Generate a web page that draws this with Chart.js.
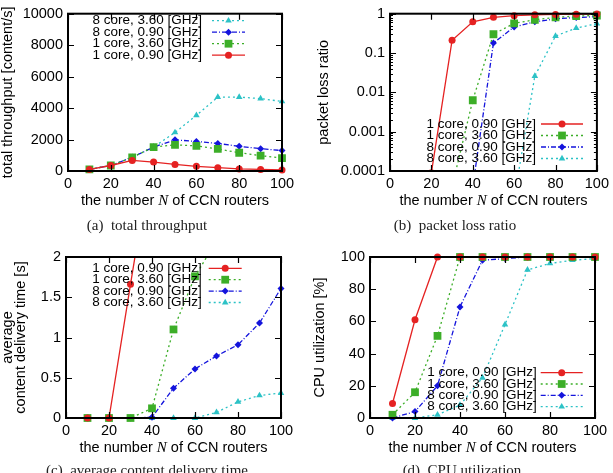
<!DOCTYPE html>
<html>
<head>
<meta charset="utf-8">
<script src="https://cdn.jsdelivr.net/npm/chart.js@4/dist/chart.umd.min.js"></script>
<style>
body { margin: 0; width: 613px; height: 473px; background: #fff; position: relative; overflow: hidden; }
.panel { position: absolute; }
.cap { position: absolute; font-family: "Liberation Serif", "DejaVu Serif", serif; font-size: 15px; line-height: 16px; color: #222; white-space: nowrap; transform: translateX(-50%); }
</style>
</head>
<body>
<div class="panel" style="left:0;top:0"><canvas id="tpChart" width="306" height="236"></canvas></div>
<div class="panel" style="left:306px;top:0"><canvas id="lossChart" width="307" height="236"></canvas></div>
<div class="panel" style="left:0;top:236px"><canvas id="delayChart" width="306" height="236"></canvas></div>
<div class="panel" style="left:306px;top:236px"><canvas id="cpuChart" width="307" height="236"></canvas></div>
<div class="cap" style="left:147px;top:217px">(a)&nbsp; total throughput</div>
<div class="cap" style="left:455px;top:217px">(b)&nbsp; packet loss ratio</div>
<div class="cap" style="left:147px;top:462px">(c)&nbsp; average content delivery time</div>
<div class="cap" style="left:462px;top:462px">(d)&nbsp; CPU utilization</div>
<script>
// x values: number of CCN routers
const routers = [10, 20, 30, 40, 50, 60, 70, 80, 90, 100];
const xTicks = [0, 20, 40, 60, 80, 100];

const seriesLabels = ['1 core, 0.90 [GHz]', '1 core, 3.60 [GHz]', '8 core, 0.90 [GHz]', '8 core, 3.60 [GHz]'];

// (a) total throughput [content/s]
const tp1c090 = [100, 350, 670, 570, 420, 300, 210, 130, 100, 70];
const tp1c360 = [100, 350, 870, 1520, 1660, 1600, 1400, 1160, 980, 820];
const tp8c090 = [100, 350, 870, 1520, 1980, 1880, 1750, 1570, 1420, 1300];
const tp8c360 = [100, 350, 870, 1520, 2450, 3540, 4700, 4700, 4600, 4420];
const tpTicks = [0, 2000, 4000, 6000, 8000, 10000];

// (b) packet loss ratio
const loss1c090 = [null, 0.00009, 0.21, 0.62, 0.81, 0.89, 0.94, 0.96, 0.97, 0.98];
const loss1c360 = [null, null, 0.00004, 0.0063, 0.30, 0.57, 0.70, 0.81, 0.87, 0.90];
const loss8c090 = [null, null, null, 0.00004, 0.18, 0.46, 0.62, 0.74, 0.80, 0.84];
const loss8c360 = [null, null, null, null, null, 0.00002, 0.026, 0.27, 0.43, 0.56];
const lossTicks = [0.0001, 0.001, 0.01, 0.1, 1];
const lossTickLabels = ['0.0001', '0.001', '0.01', '0.1', '1'];

// (c) average content delivery time [s]
const dl1c090 = [0, 0, 1.66, 3.3, null, null, null, null, null, null];
const dl1c360 = [0, 0, 0, 0.12, 1.10, 1.76, 2.2, null, null, null];
const dl8c090 = [0, 0, 0, 0.01, 0.37, 0.61, 0.77, 0.91, 1.18, 1.61];
const dl8c360 = [0, 0, 0, 0, 0, 0, 0.07, 0.20, 0.28, 0.31];
const dlTicks = [0, 0.5, 1, 1.5, 2];

// (d) CPU utilization [%]
const cpu1c090 = [9, 61, 100, 100, 100, 100, 100, 100, 100, 100];
const cpu1c360 = [2, 16, 51, 100, 100, 100, 100, 100, 100, 100];
const cpu8c090 = [0, 4, 20, 69, 98, 99, 100, 100, 100, 100];
const cpu8c360 = [0, 0, 2, 8, 25, 58, 92, 96, 98, 99];
const cpuTicks = [0, 20, 40, 60, 80, 100];

const colors = ['#e52222', '#3cae28', '#1414dc', '#2cc2c6'];
const dashes = [[], [2, 3], [5, 2, 1, 2], [2, 3]];
const pointStyles = ['circle', 'rect', 'rectRot', 'triangle'];
const pointRadii = [3.5, 5.5, 3.5, 3.8];

const sansFont = '"Liberation Sans", Arial, sans-serif';

// gnuplot-like frame, inward ticks, axis titles and key
const gnuplotFrame = {
    id: 'gnuplotFrame',
    afterDraw(chart, args, opts) {
        const { ctx, chartArea: a, scales } = chart;
        const xs = scales.x, ys = scales.y;
        ctx.save();
        ctx.strokeStyle = '#000';
        ctx.lineWidth = 1.2;
        ctx.setLineDash([]);
        ctx.beginPath();
        xs.ticks.forEach(t => {
            const px = Math.round(xs.getPixelForValue(t.value)) + 0.5;
            ctx.moveTo(px, a.bottom); ctx.lineTo(px, a.bottom - 6);
            ctx.moveTo(px, a.top); ctx.lineTo(px, a.top + 6);
        });
        ys.ticks.forEach(t => {
            const py = Math.round(ys.getPixelForValue(t.value)) + 0.5;
            ctx.moveTo(a.left, py); ctx.lineTo(a.left + 6, py);
            ctx.moveTo(a.right, py); ctx.lineTo(a.right - 6, py);
        });
        if (opts.minor) {
            for (let d = 0.0001; d < 1; d *= 10) {
                for (let m = 2; m <= 9; m++) {
                    const py = Math.round(ys.getPixelForValue(d * m)) + 0.5;
                    ctx.moveTo(a.left, py); ctx.lineTo(a.left + 3, py);
                    ctx.moveTo(a.right, py); ctx.lineTo(a.right - 3, py);
                }
            }
        }
        ctx.stroke();
        ctx.lineWidth = 2;
        ctx.strokeRect(a.left, a.top, a.width, a.height);

        // x title with italic N
        ctx.fillStyle = '#000';
        ctx.textBaseline = 'middle';
        const fs = '14.5px ' + sansFont;
        const fi = 'italic 15px "Liberation Serif", serif';
        const parts = [['the number ', fs], ['N', fi], [' of CCN routers', fs]];
        let total = 0;
        parts.forEach(p => { ctx.font = p[1]; total += ctx.measureText(p[0]).width; });
        let x = (a.left + a.right) / 2 - total / 2;
        ctx.textAlign = 'left';
        parts.forEach(p => { ctx.font = p[1]; ctx.fillText(p[0], x, opts.xTitleY); x += ctx.measureText(p[0]).width; });

        // y title (rotated)
        ctx.font = fs;
        ctx.textAlign = 'center';
        opts.yTitle.forEach((line, i) => {
            ctx.save();
            ctx.translate(opts.yTitleX[i], (a.top + a.bottom) / 2);
            ctx.rotate(-Math.PI / 2);
            ctx.fillText(line, 0, 0);
            ctx.restore();
        });

        // key
        const k = opts.key;
        ctx.font = '13.5px ' + sansFont;
        k.order.forEach((di, row) => {
            const ds = chart.data.datasets[di];
            const y = k.ys[row];
            ctx.fillStyle = '#000';
            ctx.textAlign = 'right';
            ctx.fillText(ds.label, k.x, y);
            ctx.strokeStyle = ds.borderColor;
            ctx.lineWidth = ds.borderWidth;
            ctx.setLineDash(ds.borderDash);
            ctx.beginPath();
            ctx.moveTo(k.x + k.s0, y);
            ctx.lineTo(k.x + k.s1, y);
            ctx.stroke();
            ctx.setLineDash([]);
            ctx.fillStyle = ds.backgroundColor;
            Chart.helpers.drawPoint(ctx, { pointStyle: ds.pointStyle, radius: ds.pointRadius, rotation: 0, borderWidth: 0 }, k.x + (k.s0 + k.s1) / 2, y);
        });
        ctx.restore();
    }
};

function makeChart(canvasId, cfg) {
    const canvas = document.getElementById(canvasId);
    const W = canvas.width, H = canvas.height;
    const g = cfg.area;
    const datasets = cfg.values.map((vals, i) => ({
        label: seriesLabels[i],
        data: routers.map((x, j) => ({ x: x, y: vals[j] })),
        borderColor: colors[i],
        backgroundColor: colors[i],
        borderWidth: 1.3,
        borderDash: dashes[i],
        pointStyle: pointStyles[i],
        pointRadius: pointRadii[i],
        pointBorderWidth: 0,
        pointHoverRadius: pointRadii[i],
        tension: 0,
        spanGaps: false,
        clip: cfg.clip
    }));
    const tickFont = { family: sansFont, size: 14.5 };
    return new Chart(canvas.getContext('2d'), {
        type: 'line',
        data: { datasets: datasets },
        options: {
            responsive: false,
            animation: false,
            events: [],
            layout: { padding: { left: 0, top: g.top, right: W - g.right, bottom: 0 } },
            plugins: {
                legend: { display: false },
                tooltip: { enabled: false },
                gnuplotFrame: cfg.frame
            },
            scales: {
                x: {
                    type: 'linear', min: 0, max: 100,
                    afterFit(s) { s.height = H - g.bottom; },
                    afterBuildTicks(s) { s.ticks = xTicks.map(v => ({ value: v })); },
                    grid: { display: false, drawTicks: false },
                    border: { display: false },
                    ticks: { padding: 4, color: '#000', font: tickFont, maxRotation: 0, autoSkip: false, callback: v => String(v) }
                },
                y: {
                    type: cfg.yType, min: cfg.yTicks[0], max: cfg.yTicks[cfg.yTicks.length - 1],
                    afterFit(s) { s.width = g.left; },
                    afterBuildTicks(s) { s.ticks = cfg.yTicks.map(v => ({ value: v })); },
                    grid: { display: false, drawTicks: false },
                    border: { display: false },
                    ticks: { padding: 5, color: '#000', font: tickFont, autoSkip: false, callback: cfg.yLabel }
                }
            }
        },
        plugins: [gnuplotFrame]
    });
}

makeChart('tpChart', {
    area: { left: 68, right: 282, top: 9, bottom: 171 },
    values: [tp1c090, tp1c360, tp8c090, tp8c360],
    yType: 'linear', yTicks: tpTicks, yLabel: v => String(v),
    clip: 6,
    frame: {
        xTitleY: 201, yTitle: ['total throughput [content/s]'], yTitleX: [8],
        key: { x: 202, ys: [20.7, 32.2, 43.7, 55.2], order: [3, 2, 1, 0], s0: 10, s1: 43 }
    }
});

makeChart('lossChart', {
    area: { left: 84, right: 291, top: 9, bottom: 171 },
    values: [loss1c090, loss1c360, loss8c090, loss8c360],
    yType: 'logarithmic', yTicks: lossTicks, yLabel: v => lossTickLabels[lossTicks.indexOf(v)],
    clip: { left: 6, right: 6, top: 6, bottom: 0 },
    frame: {
        xTitleY: 201, yTitle: ['packet loss ratio'], yTitleX: [18], minor: true,
        key: { x: 230, ys: [124, 135.5, 147, 158.5], order: [0, 1, 2, 3], s0: 5, s1: 47 }
    }
});

makeChart('delayChart', {
    area: { left: 66, right: 281, top: 21, bottom: 182 },
    values: [dl1c090, dl1c360, dl8c090, dl8c360],
    yType: 'linear', yTicks: dlTicks, yLabel: v => String(v),
    clip: { left: 6, right: 6, top: 0, bottom: 6 },
    frame: {
        xTitleY: 212, yTitle: ['average', 'content delivery time [s]'], yTitleX: [7.5, 21],
        key: { x: 201.7, ys: [32.3, 43.7, 55.1, 66.5], order: [0, 1, 2, 3], s0: 7, s1: 40 }
    }
});

makeChart('cpuChart', {
    area: { left: 64, right: 289, top: 21, bottom: 182 },
    values: [cpu1c090, cpu1c360, cpu8c090, cpu8c360],
    yType: 'linear', yTicks: cpuTicks, yLabel: v => String(v),
    clip: 6,
    frame: {
        xTitleY: 212, yTitle: ['CPU utilization [%]'], yTitleX: [14],
        key: { x: 230.7, ys: [136.7, 148, 159.3, 170.7], order: [0, 1, 2, 3], s0: 4, s1: 46 }
    }
});
</script>
</body>
</html>
